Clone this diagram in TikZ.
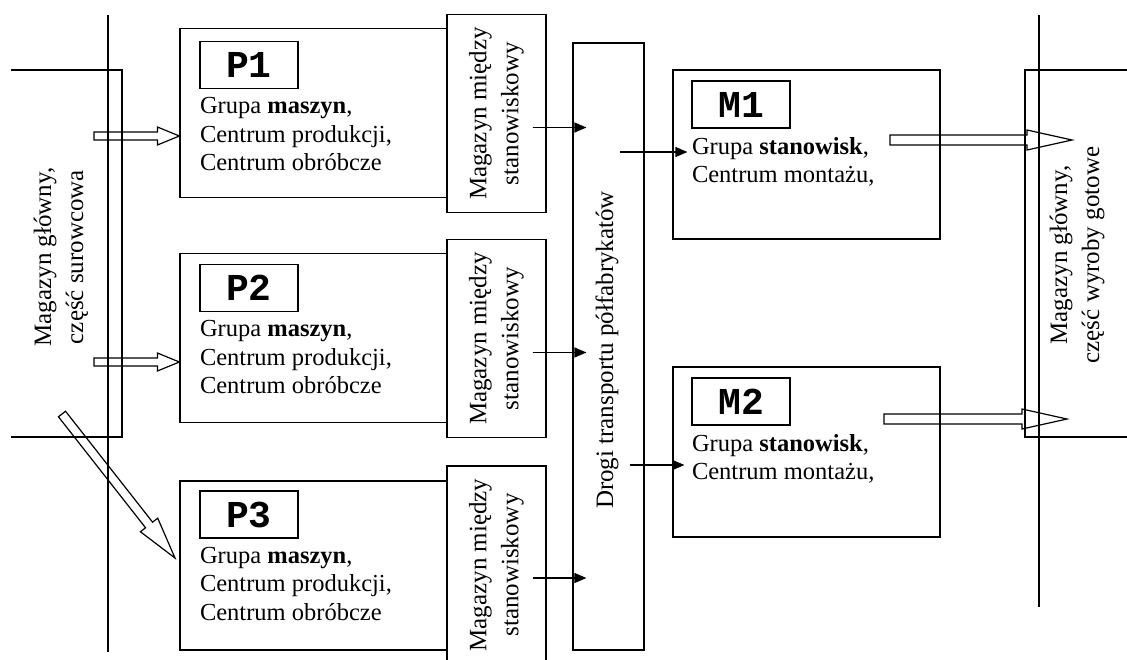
\documentclass[tikz,border=0pt]{standalone}
\usepackage{fontspec}
\setmainfont{Liberation Serif}
\setmonofont{Liberation Mono}
\usetikzlibrary{arrows.meta,calc}

\begin{document}
\begin{tikzpicture}[x=1pt,y=-1pt,>={Triangle[length=12pt,width=10pt]},line width=1.2pt,
  box/.style={draw,minimum width=267pt,minimum height=169pt},
  store/.style={draw,minimum width=99pt,minimum height=198pt},
  tag/.style={draw,anchor=north west,minimum width=98pt,minimum height=47pt,inner sep=0pt,font=\fontsize{38}{40}\selectfont\ttfamily\bfseries},
  txt/.style={anchor=north west,align=left,inner sep=0pt,font=\fontsize{24.5}{28.5}\selectfont},
  vtxt/.style={rotate=90,align=center,inner sep=0pt,font=\fontsize{25}{32}\selectfont},
  hollow/.style n args={3}{to path={
    ($(\tikztostart)!#1!90:(\tikztotarget)$)
    -- ($(\tikztotarget)!#3!(\tikztostart)!#1!90:(\tikztotarget)$)
    -- ($(\tikztotarget)!#3!(\tikztostart)!#2!90:(\tikztotarget)$)
    -- (\tikztotarget)
    -- ($(\tikztotarget)!#3!(\tikztostart)!#2!-90:(\tikztotarget)$)
    -- ($(\tikztotarget)!#3!(\tikztostart)!#1!-90:(\tikztotarget)$)
    -- ($(\tikztostart)!#1!-90:(\tikztotarget)$) -- cycle}}]
  \useasboundingbox (0,0) rectangle (1127,659);

  % main stores, left and right
  \draw (11,70) -- (122,70) -- (122,437) -- (11,437);
  \draw (108,15) -- (108,652);
  \node[vtxt] (wl) at (61,257) {Magazyn główny,\\część surowcowa};
  \draw (1127,70) -- (1025,70) -- (1025,437) -- (1127,437);
  \draw (1039,15) -- (1039,607);
  \node[vtxt] (wr) at (1077,255) {Magazyn główny,\\część wyroby gotowe};

  % production groups
  \node[box] (p1) at (313.5,113) {};
  \node[tag] (p1t) at ($(p1.north west)+(20,13)$) {P1};
  \node[txt] (p1x) at ($(p1t.south west)+(0,8)$) {Grupa \textbf{maszyn},\\Centrum produkcji,\\Centrum obróbcze};
  \node[box] (p2) at (313.5,338) {};
  \node[tag] (p2t) at ($(p2.north west)+(20,11)$) {P2};
  \node[txt] (p2x) at ($(p2t.south west)+(0,8)$) {Grupa \textbf{maszyn},\\Centrum produkcji,\\Centrum obróbcze};
  \node[box] (p3) at (313.5,565.5) {};
  \node[tag] (p3t) at ($(p3.north west)+(20,10)$) {P3};
  \node[txt] (p3x) at ($(p3t.south west)+(0,8)$) {Grupa \textbf{maszyn},\\Centrum produkcji,\\Centrum obróbcze};

  % stores between stations
  \node[store] (mg1) at (496.5,113.5) {};
  \node[vtxt] (mg1x) at (mg1) {Magazyn między\\stanowiskowy};
  \node[store] (mg2) at (496.5,338.5) {};
  \node[vtxt] (mg2x) at (mg2) {Magazyn między\\stanowiskowy};
  \node[store] (mg3) at (496.5,565) {};
  \node[vtxt] (mg3x) at (mg3) {Magazyn między\\stanowiskowy};

  % transport
  \node[draw,minimum width=71pt,minimum height=607pt] (tr) at (608.5,346.5) {};
  \node[vtxt] (trx) at (607,350) {Drogi transportu półfabrykatów};

  % assembly groups
  \node[box] (m1) at (806.5,154.5) {};
  \node[tag] (m1t) at ($(m1.north west)+(19,11)$) {M1};
  \node[txt] (m1x) at ($(m1t.south west)+(0,8)$) {Grupa \textbf{stanowisk},\\Centrum montażu,};
  \node[box,minimum height=170pt] (m2) at (806.5,452) {};
  \node[tag] (m2t) at ($(m2.north west)+(19,11)$) {M2};
  \node[txt] (m2x) at ($(m2t.south west)+(0,8)$) {Grupa \textbf{stanowisk},\\Centrum montażu,};

  % flows
  \coordinate (a1) at ([shift={(-14,14)}]mg1.east);
  \coordinate (a2) at ([shift={(-14,14)}]mg2.east);
  \coordinate (a3) at ([shift={(-14,13)}]mg3.east);
  \draw[->] (a1) -- ($(a1 -| tr.west)+(14,0)$);
  \draw[->] (a2) -- ($(a2 -| tr.west)+(14,0)$);
  \draw[->] (a3) -- ($(a3 -| tr.west)+(14,0)$);
  \coordinate (b1) at (620,152);
  \coordinate (b2) at (630,465);
  \draw[->] (b1) -- ($(b1 -| m1.west)+(15,0)$);
  \draw[->] (b2) -- ($(b2 -| m2.west)+(12,0)$);

  \coordinate (in1) at (94,136);
  \coordinate (in2) at (94,362);
  \coordinate (in3) at (62,414);
  \coordinate (tip3) at (175,558);
  \draw[hollow={4pt}{9pt}{22pt}] (in1) to (in1 -| p1.west);
  \draw[hollow={4pt}{9pt}{22pt}] (in2) to (in2 -| p2.west);
  \draw[hollow={4.5pt}{11pt}{42pt}] (in3) to (tip3);
  \coordinate (out1) at (890,140);
  \coordinate (end1) at (1072,140);
  \coordinate (out2) at (884,419);
  \coordinate (end2) at (1067,419);
  \draw[hollow={5pt}{10pt}{45pt}] (out1) to (end1);
  \draw[hollow={5pt}{10pt}{45pt}] (out2) to (end2);
\end{tikzpicture}
\end{document}
